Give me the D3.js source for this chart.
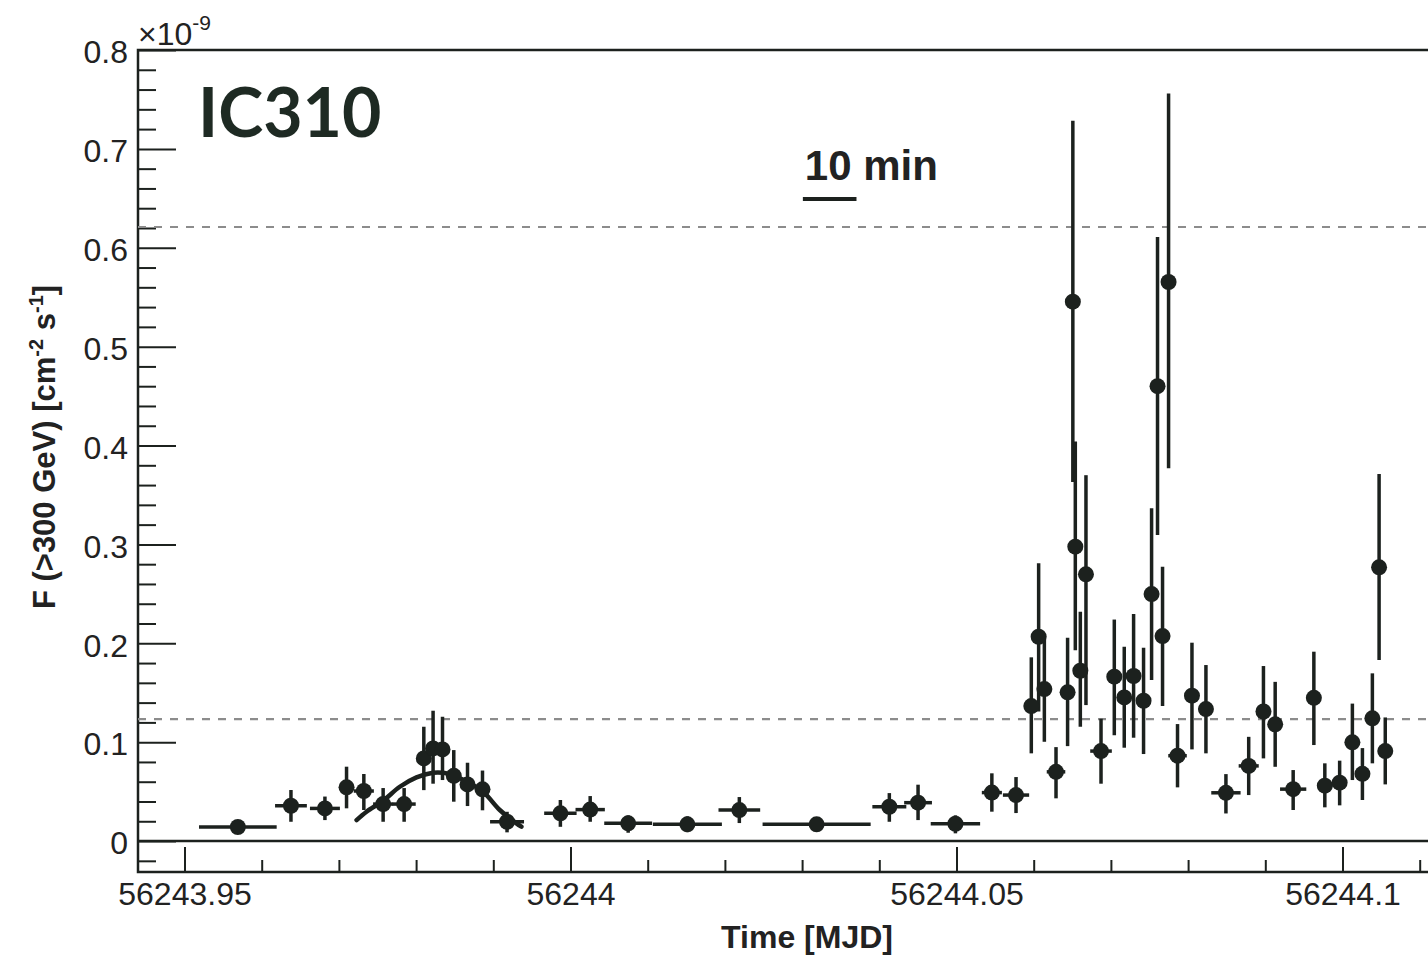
<!DOCTYPE html>
<html>
<head>
<meta charset="utf-8">
<script src="https://cdn.jsdelivr.net/npm/d3@7"></script>
<style>
  body { margin: 0; background: #fff; }
  .tick text { font-family: "Liberation Sans", Arial, sans-serif; font-size: 32px; fill: #222; }
</style>
</head>
<body>
<div class="chart"></div>
<script>
// light curve points, time in MJD, flux in units of 1e-9 cm^-2 s^-1
let mjd = [56243.95691, 56243.96379, 56243.96819, 56243.97099, 56243.97323, 56243.97573, 56243.97845,
  56243.98100, 56243.98220, 56243.98342, 56243.98488, 56243.98666, 56243.98860, 56243.99178,
  56243.99869, 56244.00255, 56244.00747, 56244.01514, 56244.02187, 56244.03188, 56244.04130,
  56244.04502, 56244.04986, 56244.05458, 56244.05771, 56244.05969, 56244.06064, 56244.06138,
  56244.06289, 56244.06439, 56244.06507, 56244.06539, 56244.06604, 56244.06677, 56244.06872,
  56244.07044, 56244.07173, 56244.07294, 56244.07423, 56244.07527, 56244.07604, 56244.07669,
  56244.07747, 56244.07863, 56244.08050, 56244.08231, 56244.08490, 56244.08785, 56244.08976,
  56244.09128, 56244.09361, 56244.09629, 56244.09771, 56244.09963, 56244.10128, 56244.10258,
  56244.10387, 56244.10474, 56244.10554];
let mjdErr = [0.00503, 0.00206, 0.00194, 0.0009, 0.0013, 0.0013, 0.0015,
  0.0005, 0.0005, 0.0005, 0.0005, 0.0005, 0.0005, 0.0022,
  0.0021, 0.0019, 0.0031, 0.00447, 0.0027, 0.0070, 0.0022,
  0.0018, 0.0032, 0.0013, 0.0017, 0.0004, 0.0004, 0.0004,
  0.0012, 0.0004, 0.0004, 0.0004, 0.0004, 0.0004, 0.0014,
  0.0004, 0.0004, 0.0004, 0.0004, 0.0004, 0.0004, 0.0004,
  0.0004, 0.0012, 0.0004, 0.0004, 0.0019, 0.0013, 0.0004,
  0.0004, 0.0017, 0.0004, 0.0010, 0.0009, 0.0004, 0.0008,
  0.0004, 0.0004, 0.0004];
let flux = [0.0142, 0.0357, 0.0330, 0.0543, 0.0506, 0.0374, 0.0374,
  0.0836, 0.0937, 0.0927, 0.0660, 0.0573, 0.0523, 0.0195,
  0.0280, 0.0318, 0.0179, 0.0169, 0.0313, 0.0169, 0.0347,
  0.0388, 0.0175, 0.0490, 0.0465, 0.1365, 0.2066, 0.1537,
  0.0700, 0.1504, 0.5455, 0.2977, 0.1722, 0.2697, 0.0910,
  0.1662, 0.1453, 0.1669, 0.1419, 0.2498, 0.4600, 0.2073,
  0.5654, 0.0863, 0.1470, 0.1335, 0.0488, 0.0760, 0.1310,
  0.1180, 0.0525, 0.1448, 0.0560, 0.0590, 0.0998, 0.0680,
  0.1241, 0.2768, 0.0910];
let fluxLow = [0.0095, 0.0195, 0.0212, 0.0331, 0.0314, 0.0195, 0.0195,
  0.0515, 0.0580, 0.0617, 0.0398, 0.0354, 0.0311, 0.0088,
  0.0144, 0.0195, 0.0084, 0.0090, 0.0182, 0.0120, 0.0195,
  0.0212, 0.0078, 0.0297, 0.0283, 0.0887, 0.1310, 0.1004,
  0.0432, 0.0960, 0.3630, 0.1930, 0.1156, 0.1375, 0.0580,
  0.1070, 0.0944, 0.1045, 0.0880, 0.1628, 0.3095, 0.1365,
  0.3770, 0.0543, 0.0927, 0.0887, 0.0279, 0.0465, 0.0836,
  0.0751, 0.0314, 0.0971, 0.0341, 0.0361, 0.0617, 0.0415,
  0.0786, 0.1831, 0.0573];
let fluxHigh = [0.0190, 0.0516, 0.0450, 0.0752, 0.0678, 0.0536, 0.0536,
  0.1156, 0.1318, 0.1257, 0.0920, 0.0792, 0.0713, 0.0296,
  0.0415, 0.0455, 0.0260, 0.0250, 0.0445, 0.0220, 0.0485,
  0.0570, 0.0260, 0.0685, 0.0647, 0.1858, 0.2810, 0.2070,
  0.0950, 0.2056, 0.7285, 0.4040, 0.2319, 0.3700, 0.1237,
  0.2240, 0.1965, 0.2296, 0.1955, 0.3365, 0.6110, 0.2774,
  0.7560, 0.1183, 0.2006, 0.1780, 0.0677, 0.1054, 0.1770,
  0.1610, 0.0718, 0.1915, 0.0786, 0.0813, 0.1390, 0.0940,
  0.1696, 0.3712, 0.1250];

// fitted curve of the first bump
let fitMjd = [56243.97229, 56243.97358, 56243.97573, 56243.97789, 56243.98005, 56243.98220, 56243.98350,
  56243.98479, 56243.98653, 56243.98867, 56243.99084, 56243.99300, 56243.99364];
let fitFlux = [0.0212, 0.0297, 0.0408, 0.0549, 0.0644, 0.0691, 0.0691,
  0.0668, 0.0600, 0.0499, 0.0314, 0.0179, 0.0145];

// reference levels (dashed)
let refLevels = [0.621, 0.1234];

// tick values
let xMajor = [56243.95, 56244, 56244.05, 56244.1];
let xMinor = [56243.96, 56243.97, 56243.98, 56243.99, 56244.01, 56244.02, 56244.03, 56244.04,
  56244.06, 56244.07, 56244.08, 56244.09, 56244.11];
let yMajor = [0, 0.1, 0.2, 0.3, 0.4, 0.5, 0.6, 0.7, 0.8];
let yMinor = d3.range(-1, 40).map(i => +(i * 0.02).toFixed(2)).filter(v => Math.abs(v * 10 - Math.round(v * 10)) > 1e-6);

let scaleBarStart = 56244.0301;
let scaleBarLength = 10 / 1440; // 10 minutes in days

let svgW = 1428;
let svgH = 955;

let margin = { top: 50, left: 138 };
let height = 822; // frame height (bottom frame at y = -0.031)

let svg = d3.select(".chart")
  .append("svg")
  .attr("width", svgW)
  .attr("height", svgH)
  .style("display", "block");

let chartGroup = svg.append("g")
  .attr("transform", `translate(${margin.left}, ${margin.top})`);

let x = d3.scaleLinear()
  .domain([56243.95, 56244.1])
  .range([184.5 - margin.left, 1342.5 - margin.left]);

let y = d3.scaleLinear()
  .domain([-0.0313, 0.8])
  .range([height, 0]);

let ink = "#1c211e";
let frameW = 1302; // right edge runs off the picture

// axes: ticks point inward like the original plot
let yAxisMinor = d3.axisLeft(y).tickValues(yMinor).tickFormat("").tickSizeInner(-18).tickSizeOuter(0);
let yAxis = d3.axisLeft(y).tickValues(yMajor).tickFormat(d => String(+d.toFixed(1)))
  .tickSizeInner(-38).tickSizeOuter(0).tickPadding(10);

chartGroup.append("g").call(yAxisMinor);
let yG = chartGroup.append("g").call(yAxis);
yG.selectAll("text").attr("dy", "0.4em");

let xAxisMinor = d3.axisBottom(x).tickValues(xMinor).tickFormat("").tickSizeInner(-12).tickSizeOuter(0);
let xAxis = d3.axisBottom(x).tickValues(xMajor).tickFormat(d => String(+d.toFixed(2)))
  .tickSizeInner(-25).tickSizeOuter(0).tickPadding(10);

chartGroup.append("g").attr("transform", `translate(0, ${height})`).call(xAxisMinor);
chartGroup.append("g").attr("transform", `translate(0, ${height})`).call(xAxis);

chartGroup.selectAll(".domain").remove();
chartGroup.selectAll(".tick line").attr("stroke", ink).attr("stroke-width", 2);

// frame
chartGroup.append("path")
  .attr("d", `M${frameW},0 H0 V${height} H${frameW}`)
  .attr("fill", "none")
  .attr("stroke", ink)
  .attr("stroke-width", 2.5);

// zero line
chartGroup.append("line")
  .attr("x1", 0).attr("x2", frameW)
  .attr("y1", y(0)).attr("y2", y(0))
  .attr("stroke", ink)
  .attr("stroke-width", 2.5);

// dashed reference levels
chartGroup.selectAll(".ref")
  .data(refLevels)
  .enter()
  .append("line")
  .attr("x1", 0).attr("x2", frameW)
  .attr("y1", d => y(d)).attr("y2", d => y(d))
  .attr("stroke", "#8c8c8c")
  .attr("stroke-width", 2.2)
  .attr("stroke-dasharray", "8,8");

let points = mjd.map((m, i) => ({ m: m, e: mjdErr[i], f: flux[i], lo: fluxLow[i], hi: fluxHigh[i] }));

// error bars
let bars = chartGroup.append("g").attr("stroke", ink).attr("stroke-width", 3.5);
bars.selectAll(".ex")
  .data(points)
  .enter()
  .append("line")
  .attr("x1", d => x(d.m - d.e)).attr("x2", d => x(d.m + d.e))
  .attr("y1", d => y(d.f)).attr("y2", d => y(d.f));
bars.selectAll(".ey")
  .data(points)
  .enter()
  .append("line")
  .attr("x1", d => x(d.m)).attr("x2", d => x(d.m))
  .attr("y1", d => y(d.lo)).attr("y2", d => y(d.hi));

// fit curve
let fitLine = d3.line()
  .x(d => x(d[0]))
  .y(d => y(d[1]))
  .curve(d3.curveCatmullRom);

chartGroup.append("path")
  .datum(fitMjd.map((m, i) => [m, fitFlux[i]]))
  .attr("d", fitLine)
  .attr("fill", "none")
  .attr("stroke", ink)
  .attr("stroke-width", 4.5)
  .attr("stroke-linecap", "round");

// markers
chartGroup.selectAll("circle")
  .data(points)
  .enter()
  .append("circle")
  .attr("cx", d => x(d.m))
  .attr("cy", d => y(d.f))
  .attr("r", 8)
  .attr("fill", ink);

// exponent label
let expo = svg.append("text")
  .attr("x", 138)
  .attr("y", 45)
  .style("font-family", "Liberation Sans, Arial, sans-serif")
  .style("font-size", "32px")
  .attr("fill", "#222");
expo.append("tspan").text("\u00d710");
expo.append("tspan").attr("dy", -15).style("font-size", "21px").text("-9");

// y axis title
let yTitle = svg.append("text")
  .attr("transform", "translate(55, 447) rotate(-90)")
  .attr("text-anchor", "middle")
  .style("font-family", "Liberation Sans, Arial, sans-serif")
  .style("font-weight", "bold")
  .style("font-size", "31px")
  .attr("fill", "#222");
yTitle.append("tspan").text("F (>300 GeV) [cm");
yTitle.append("tspan").attr("dy", -12).style("font-size", "20px").text("-2");
yTitle.append("tspan").attr("dy", 12).text(" s");
yTitle.append("tspan").attr("dy", -12).style("font-size", "20px").text("-1");
yTitle.append("tspan").attr("dy", 12).text("]");

// x axis title
svg.append("text")
  .attr("x", 807)
  .attr("y", 948)
  .attr("text-anchor", "middle")
  .style("font-family", "Liberation Sans, Arial, sans-serif")
  .style("font-weight", "bold")
  .style("font-size", "32px")
  .attr("fill", "#222")
  .text("Time [MJD]");

// source name
svg.append("text")
  .attr("x", 198)
  .attr("y", 137)
  .style("font-family", "Lato, 'Open Sans', sans-serif")
  .style("font-weight", "bold")
  .style("font-size", "68px")
  .attr("fill", "#1e2a23")
  .text("IC310");

// 10 min scale bar
let barX = x(scaleBarStart) + margin.left;
svg.append("text")
  .attr("x", barX + 2)
  .attr("y", 180)
  .style("font-family", "Liberation Sans, Arial, sans-serif")
  .style("font-weight", "bold")
  .style("font-size", "42px")
  .attr("fill", "#222")
  .text("10 min");

svg.append("line")
  .attr("x1", barX)
  .attr("x2", x(scaleBarStart + scaleBarLength) + margin.left)
  .attr("y1", 199).attr("y2", 199)
  .attr("stroke", ink)
  .attr("stroke-width", 4);
</script>
</body>
</html>
